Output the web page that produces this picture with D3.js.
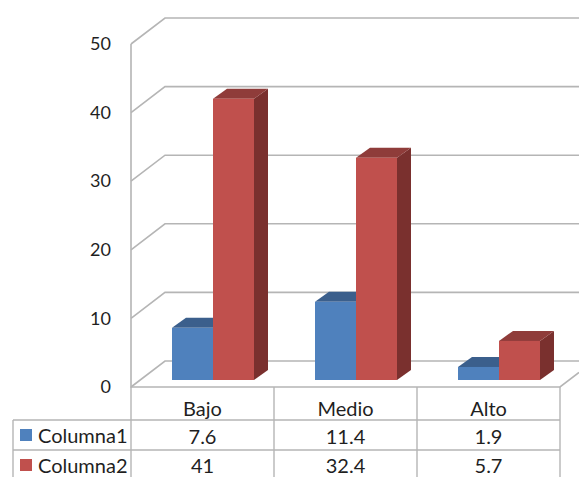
<!DOCTYPE html>
<html>
<head>
<meta charset="utf-8">
<script src="https://cdn.jsdelivr.net/npm/d3@7/dist/d3.min.js"></script>
<style>
  html, body { margin: 0; padding: 0; background: #fff; overflow: hidden; }
  text { font-family: Lato, "Open Sans", sans-serif; fill: #1f1f1f; }
</style>
</head>
<body>
<script>
const width = 579;
const height = 477;

const categories = ["Bajo", "Medio", "Alto"];
const seriesNames = ["Columna1", "Columna2"];
const columna1 = [7.6, 11.4, 1.9];
const columna2 = [41, 32.4, 5.7];
const yTicks = [0, 10, 20, 30, 40, 50];

const front = ["#4f81bd", "#c0504d"];
const topFace = ["#3b5f8c", "#8f3c3a"];
const sideFace = ["#375880", "#7a302e"];
const lineColor = "#b5b5b5";

const svg = d3.select("body")
    .append("svg")
    .attr("width", width)
    .attr("height", height)
    .style("display", "block");

// scales
const y = d3.scaleLinear().domain([0, 50]).range([387, 44]);
const x = d3.scaleBand().domain(categories).range([131, 560]);
const xSeries = d3.scaleBand().domain([0, 1]).range([0, 82]);

// 3d offsets
const wallDx = 34, wallDy = -26;   // front edge -> back wall
const barInset = 7;                // bar front sits this far above floor front edge
const barDx = 14, barDy = -10;     // bar depth
const barShift = 10.5;             // bars sit a bit right of the band centre

// walls and gridlines
const grid = svg.append("g")
    .attr("fill", "none")
    .attr("stroke", lineColor)
    .attr("stroke-width", 1.6);

grid.selectAll("path.grid")
    .data(yTicks)
    .enter()
    .append("path")
    .attr("class", "grid")
    .attr("d", d => `M${x.range()[0]},${y(d)}l${wallDx},${wallDy}H${width}`);

grid.append("path")
    .attr("d", `M${x.range()[0]},${y(50)}V${y(0)}H${x.range()[1]}l${width - x.range()[1]},${wallDy * (width - x.range()[1]) / wallDx}`);

// tick labels
const axis = d3.axisLeft(y).tickValues(yTicks).tickSize(0).tickPadding(0);
const axisG = svg.append("g")
    .attr("transform", "translate(111,0)")
    .call(axis);
axisG.select(".domain").remove();
axisG.selectAll("text")
    .attr("font-size", 18)
    .style("font-family", "Lato, 'Open Sans', sans-serif");

// bars, blue first so the red one covers its side
[columna1, columna2].forEach((values, s) => {
  const g = svg.append("g");
  values.forEach((v, i) => {
    const x0 = x(categories[i]) + x.bandwidth() / 2 + barShift - 41 + xSeries(s);
    const w = xSeries.bandwidth();
    const base = y(0) - barInset;
    const top = base - (y(0) - y(v));
    g.append("path")
      .attr("fill", sideFace[s])
      .attr("d", `M${x0 + w},${top}l${barDx},${barDy}V${base + barDy}l${-barDx},${-barDy}Z`);
    g.append("path")
      .attr("fill", topFace[s])
      .attr("d", `M${x0},${top}l${barDx},${barDy}h${w}l${-barDx},${-barDy}Z`);
    g.append("rect")
      .attr("x", x0)
      .attr("y", top)
      .attr("width", w)
      .attr("height", base - top)
      .attr("fill", front[s]);
  });
});

// data table
const rowLines = [420, 450];
const table = svg.append("g")
    .attr("fill", "none")
    .attr("stroke", lineColor)
    .attr("stroke-width", 1.4);

x.domain().forEach(c => {
  table.append("line")
    .attr("x1", x(c) + x.bandwidth()).attr("x2", x(c) + x.bandwidth())
    .attr("y1", y(0)).attr("y2", height);
});
table.append("line").attr("x1", 131).attr("x2", 131).attr("y1", y(0)).attr("y2", height);
table.append("line").attr("x1", 13).attr("x2", 13).attr("y1", rowLines[0]).attr("y2", height);
rowLines.forEach(r => {
  table.append("line").attr("x1", 13).attr("x2", 560).attr("y1", r).attr("y2", r);
});

const cellText = (px, py, str, anchor) => svg.append("text")
    .attr("x", px)
    .attr("y", py)
    .attr("font-size", 20)
    .attr("text-anchor", anchor || "middle")
    .attr("dominant-baseline", "central")
    .text(str);

categories.forEach((c, i) => {
  const cx = x(c) + x.bandwidth() / 2;
  cellText(cx, 407.5, c);
  cellText(cx, 435.5, columna1[i]);
  cellText(cx, 465, columna2[i]);
});

seriesNames.forEach((n, s) => {
  const py = [435, 465][s];
  svg.append("rect")
    .attr("x", 20).attr("y", py - 6)
    .attr("width", 12).attr("height", 12)
    .attr("fill", front[s]);
  cellText(38, py, n, "start");
});
</script>
</body>
</html>
